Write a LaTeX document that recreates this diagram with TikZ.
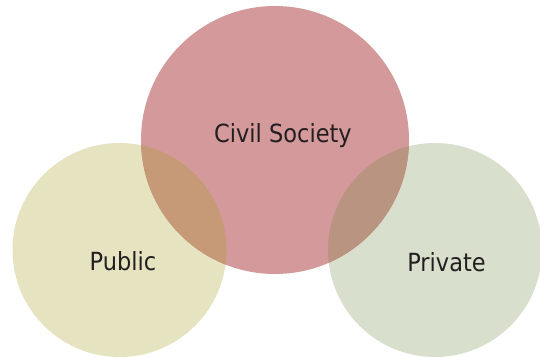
\documentclass[tikz,border=0pt]{standalone}
\usepackage{fontspec}
\setmainfont{DejaVu Sans Condensed}
\definecolor{civc}{HTML}{D4999B}
\definecolor{pubc}{HTML}{E5E3C0}
\definecolor{priv}{HTML}{D8DFCC}
\definecolor{ovlpub}{HTML}{C69977}
\definecolor{ovlpriv}{HTML}{B99481}
\definecolor{txt}{HTML}{231F20}
\tikzset{
  lbl/.style={anchor=base, inner sep=0pt, text=txt, font=\fontsize{25}{30}\selectfont}
}
\begin{document}
\begin{tikzpicture}[x=1pt,y=-1pt]
\useasboundingbox (0,0) rectangle (540,356);
\coordinate (cpub) at (119.5,250);
\coordinate (cciv) at (275,140);
\coordinate (cpri) at (435,250);
\fill[pubc] (cpub) circle[radius=107pt];
\fill[priv] (cpri) circle[radius=107pt];
\fill[civc] (cciv) circle[radius=134pt];
\begin{scope}
  \clip (cciv) circle[radius=134pt];
  \fill[ovlpub] (cpub) circle[radius=107pt];
  \fill[ovlpriv] (cpri) circle[radius=107pt];
\end{scope}
\node[lbl] (civ) at (283,142) {Civil Society};
\node[lbl] (pub) at (123,270) {Public};
\node[lbl] (pri) at (446.5,271) {Private};
\end{tikzpicture}
\end{document}
